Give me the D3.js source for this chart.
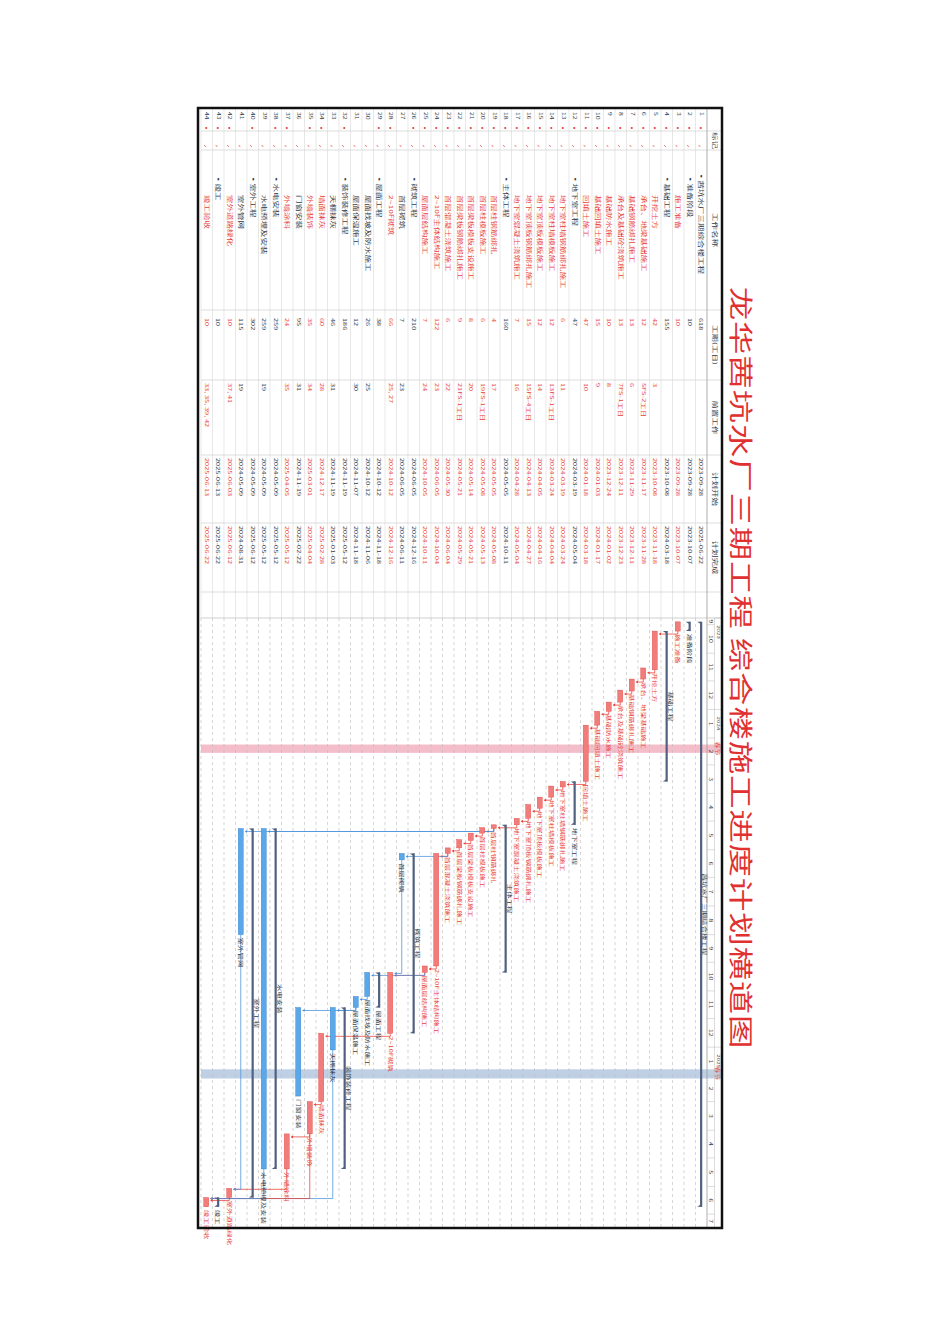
<!DOCTYPE html>
<html><head><meta charset="utf-8">
<script src="https://cdn.jsdelivr.net/npm/d3@7"></script>
<style>body{margin:0;background:#fff}svg{display:block}</style></head>
<body><svg id="c" width="950" height="1344"></svg>
<script>
// ---------------- data ----------------
const chartTitle = "龙华茜坑水厂三期工程  综合楼施工进度计划横道图";
const headers = ["","标记","工作名称","工期(工日)","前置工作","计划开始","计划完成"];
const names = ["▪茜坑水厂三期综合楼工程","▪准备阶段","施工准备","▪基础工程","开挖土方","承台、地梁基础施工","基础钢筋绑扎施工","承台及基础砼浇筑施工","基础防水施工","基础回填土施工","回填土施工",
 "▪地下室工程","地下室柱墙钢筋绑扎施工","地下室柱墙模板施工","地下室顶板模板施工","地下室顶板钢筋绑扎施工","地下室混凝土浇筑施工",
 "▪主体工程","首层柱钢筋绑扎","首层柱模板施工","首层梁板模板支设施工","首层梁板钢筋绑扎施工","首层混凝土浇筑施工","2~10F主体结构施工","屋面层结构施工",
 "▪砌筑工程","首层砌筑","2~10F砌筑","▪屋面工程","屋面找坡及防水施工","屋面保温施工","▪装饰装修工程","天棚抹灰","墙面抹灰","外墙装饰","门窗安装","外墙涂料",
 "▪水电安装","水电预埋及安装","▪室外工程","室外管网","室外道路绿化","▪竣工","竣工验收"];
const kinds = ["s","s","c","s","c","c","c","c","c","c","c","s","c","c","c","c","c","s","c","c","c","c","c","c","c",
 "s","n","c","s","n","n","s","n","c","c","n","c","s","n","s","n","c","s","c"];
const durations = [618,10,10,155,42,12,13,13,10,15,47,47,6,12,12,15,7,160,4,6,8,9,6,122,7,
 210,7,66,38,26,12,186,46,60,35,95,24,259,259,302,115,10,10,10];
const preds = ["","","","","3","5FS-2工日","6","7FS-1工日","8","9","10","","11","13FS-1工日","14","15FS-4工日","16","","17","19FS-1工日","20","21FS-1工日","22","23","24",
 "","23","25, 27","","25","30","","31","28","34","31","35","","19","","19","37, 41","","33, 35, 39, 42"];
const starts = ["2023-09-28","2023-09-28","2023-09-28","2023-10-08","2023-10-08","2023-11-17","2023-11-29","2023-12-11","2023-12-24","2024-01-03","2024-01-18",
 "2024-03-19","2024-03-19","2024-03-24","2024-04-05","2024-04-13","2024-04-28",
 "2024-05-05","2024-05-05","2024-05-08","2024-05-14","2024-05-21","2024-05-30","2024-06-05","2024-10-05",
 "2024-06-05","2024-06-05","2024-10-12","2024-10-12","2024-10-12","2024-11-07","2024-11-19","2024-11-19","2024-12-17","2025-03-01","2024-11-19","2025-04-05",
 "2024-05-09","2024-05-09","2024-05-09","2024-05-09","2025-06-03","2025-06-13","2025-06-13"];
const ends = ["2025-06-22","2023-10-07","2023-10-07","2024-03-18","2023-11-18","2023-11-28","2023-12-11","2023-12-23","2024-01-02","2024-01-17","2024-03-18",
 "2024-05-04","2024-03-24","2024-04-04","2024-04-16","2024-04-27","2024-05-04",
 "2024-10-11","2024-05-08","2024-05-13","2024-05-21","2024-05-29","2024-06-04","2024-10-04","2024-10-11",
 "2024-12-16","2024-06-11","2024-12-16","2024-11-18","2024-11-06","2024-11-18","2025-05-12","2025-01-03","2025-02-28","2025-04-04","2025-02-22","2025-05-12",
 "2025-05-12","2025-05-12","2025-06-12","2024-08-31","2025-06-12","2025-06-22","2025-06-22"];
const links = [[3,5],[5,6],[6,7],[7,8],[8,9],[9,10],[10,11],[11,13],[13,14],[14,15],[15,16],[16,17],[17,19],[19,20],[20,21],[21,22],[22,23],[23,24],[24,25],
 [23,27],[25,28],[27,28],[25,30],[30,31],[31,33],[28,34],[34,35],[31,36],[35,37],[19,39],[19,41],[37,42],[41,42],[33,44],[35,44],[39,44],[42,44]];
const holidayStarts = ["2024-02-08","2025-01-25"];
const holidayEnds = ["2024-02-17","2025-02-04"];
const holidayLabels = ["春节","春节"];
const axisStart = "2023-09-26", axisEnd = "2025-07-16";

// ---------------- layout ----------------
const P = d3.timeParse("%Y-%m-%d");
const W = 1120, H = 524, HDR = 15, ROWH = 11.5, SX = 1.55;
const colX = [0,23,42,202,272,347,415,484];
const GX0 = 510;
const RED = "#e8403a", DARK = "#333a48", BLUE = "#4a92da";
const FONT = "'Noto Sans CJK SC','Noto Sans',sans-serif";
const svg = d3.select("#c");
const g = svg.append("g").attr("transform","translate(722,108) rotate(90)").style("font-family",FONT);

const rows = names.map((n,i)=>({id:i+1,name:n,kind:kinds[i],dur:durations[i],pred:preds[i],s:P(starts[i]),e:d3.timeDay.offset(P(ends[i]),1),ss:starts[i],es:ends[i]}));
const y = d3.scaleBand().domain(rows.map(r=>r.id)).range([HDR,HDR+ROWH*rows.length]);
const x = d3.scaleTime().domain([P(axisStart),P(axisEnd)]).range([GX0+2,W]);

// stretched text helper (source drawing is stretched along the text direction)
function txt(sel, px, py, s, size, fill, anchor){
  return sel.append("text").attr("transform",`translate(${px},${py}) scale(${SX},1)`)
    .attr("text-anchor",anchor||"start").attr("dominant-baseline","middle")
    .attr("font-size",size).attr("fill",fill).text(s);
}

// title
svg.append("text").attr("transform","translate(739,"+(108+W/2)+") rotate(90) scale(1.4,1)")
  .attr("text-anchor","middle").attr("dominant-baseline","middle")
  .attr("font-family","'Noto Sans CJK SC',serif").attr("font-size",24).attr("letter-spacing",0.5)
  .attr("fill","#e03030").text(chartTitle);

// holiday bands
holidayStarts.forEach((s,i)=>{
  g.append("rect").attr("x",x(P(s))).attr("y",0).attr("width",x(P(holidayEnds[i]))-x(P(s))).attr("height",H-3)
    .attr("fill", i===0?"#f3b6c4":"#b8cbe2").attr("opacity",0.9);
});

// row grid
rows.forEach(r=>{
  g.append("line").attr("x1",0).attr("x2",GX0).attr("y1",y(r.id)+ROWH).attr("y2",y(r.id)+ROWH).attr("stroke","#d8d8d8").attr("stroke-width",0.6);
  g.append("line").attr("x1",GX0).attr("x2",W).attr("y1",y(r.id)+ROWH).attr("y2",y(r.id)+ROWH).attr("stroke","#bbb").attr("stroke-width",0.6).attr("stroke-dasharray","3,3");
});
colX.forEach(cx=>g.append("line").attr("x1",cx).attr("x2",cx).attr("y1",0).attr("y2",H-3).attr("stroke","#cfcfcf").attr("stroke-width",0.7));
g.append("line").attr("x1",GX0).attr("x2",GX0).attr("y1",0).attr("y2",H-3).attr("stroke","#bbb").attr("stroke-width",0.7);
g.append("line").attr("x1",0).attr("x2",W).attr("y1",HDR).attr("y2",HDR).attr("stroke","#999").attr("stroke-width",0.8);

// headers
headers.forEach((h,i)=>{ if(h) txt(g,(colX[i]+colX[i+1])/2,HDR/2+0.5,h,5.5,DARK,"middle"); });

// timescale header
const mid = HDR/2;
g.append("line").attr("x1",GX0).attr("x2",W).attr("y1",mid).attr("y2",mid).attr("stroke","#bbb").attr("stroke-width",0.5);
const months = d3.timeMonth.range(d3.timeMonth.floor(P(axisStart)), P(axisEnd));
months.forEach(m=>{
  const x0 = Math.max(x(m), GX0), x1 = Math.min(x(d3.timeMonth.offset(m,1)), W);
  if(x(m)>GX0) g.append("line").attr("x1",x(m)).attr("x2",x(m)).attr("y1",mid).attr("y2",HDR).attr("stroke","#bbb").attr("stroke-width",0.5);
  txt(g,(x0+x1)/2,mid+4,String(m.getMonth()+1),4.5,DARK,"middle");
});
const years = d3.timeYear.range(d3.timeYear.floor(P(axisStart)), P(axisEnd));
years.forEach(yr=>{
  const x0 = Math.max(x(yr), GX0);
  g.append("line").attr("x1",x0).attr("x2",x0).attr("y1",0).attr("y2",mid).attr("stroke","#bbb").attr("stroke-width",0.5);
  txt(g,x0+14,mid/2+0.5,String(yr.getFullYear()),4,DARK,"middle");
});
holidayStarts.forEach((s,i)=>{ txt(g,x(P(s))+4,mid/2+1,holidayLabels[i],4.5,RED,"middle"); });

// table body
const cy = r => y(r.id)+ROWH/2+0.5;
const col = r => r.kind==="c"?RED:DARK;
rows.forEach(r=>{
  txt(g,colX[0]+4,cy(r),String(r.id),4.5,DARK);
  if(r.kind!=="n") g.append("circle").attr("cx",colX[1]-3).attr("cy",cy(r)).attr("r",1.1).attr("fill",RED);
  g.append("path").attr("d",`M${colX[2]-5},${cy(r)+2} l2,-1.5`).attr("stroke",RED).attr("stroke-width",0.7);
  const indent = r.kind==="s" ? (r.id===1?22:25) : 45;
  txt(g,colX[2]+indent,cy(r),r.name,5.5,col(r));
  txt(g,colX[3]+8,cy(r),String(r.dur),4.8,col(r));
  txt(g,colX[4]+3,cy(r),r.pred,4.8,col(r));
  txt(g,colX[5]+3,cy(r),r.ss,4.8,col(r));
  txt(g,colX[6]+3,cy(r),r.es,4.8,col(r));
});

// links
const byId = new Map(rows.map(r=>[r.id,r]));
links.forEach(([a,b])=>{
  const A = byId.get(a), B = byId.get(b);
  const crit = A.kind==="c" && B.kind==="c";
  const xa = x(A.e), ya = cy(A), xb = Math.max(x(B.s)+1, xa+3), yb = y(B.id)+2;
  g.append("path").attr("d",`M${xa},${ya} H${xb} V${yb}`).attr("fill","none").attr("stroke",crit?RED:BLUE).attr("stroke-width",0.9).attr("opacity",0.85);
  g.append("path").attr("d",`M${xb-1.5},${yb-2} L${xb},${yb} L${xb+1.5},${yb-2}Z`).attr("fill",crit?RED:BLUE);
});

// bars
rows.forEach(r=>{
  const x0 = x(r.s), x1 = x(r.e), c = cy(r);
  if(r.kind==="s"){
    g.append("rect").attr("x",x0).attr("y",c-1.5).attr("width",x1-x0).attr("height",2.2).attr("fill","#50607e");
    g.append("path").attr("d",`M${x0},${c-1.5} v5 l2,-3 Z M${x1},${c-1.5} v5 l-2,-3 Z`).attr("fill","#50607e");
    if(x1-x0>60) txt(g,(x0+x1)/2,c-4,r.name.replace("▪",""),4.8,DARK,"middle");
    else txt(g,x1+3,c,r.name.replace("▪",""),4.8,DARK);
  } else {
    g.append("rect").attr("x",x0).attr("y",c-2.5).attr("width",Math.max(1,x1-x0)).attr("height",5)
     .attr("fill",r.kind==="c"?"#f07c7c":"#5aa8ea").attr("stroke",r.kind==="c"?RED:"#2f7cc8").attr("stroke-width",0.4);
    txt(g,x1+3,c,r.name,4.8,r.kind==="c"?RED:DARK);
  }
});

// frame
g.append("rect").attr("x",0).attr("y",0).attr("width",W).attr("height",H).attr("fill","none").attr("stroke","#111").attr("stroke-width",2.5);
</script></body></html>
